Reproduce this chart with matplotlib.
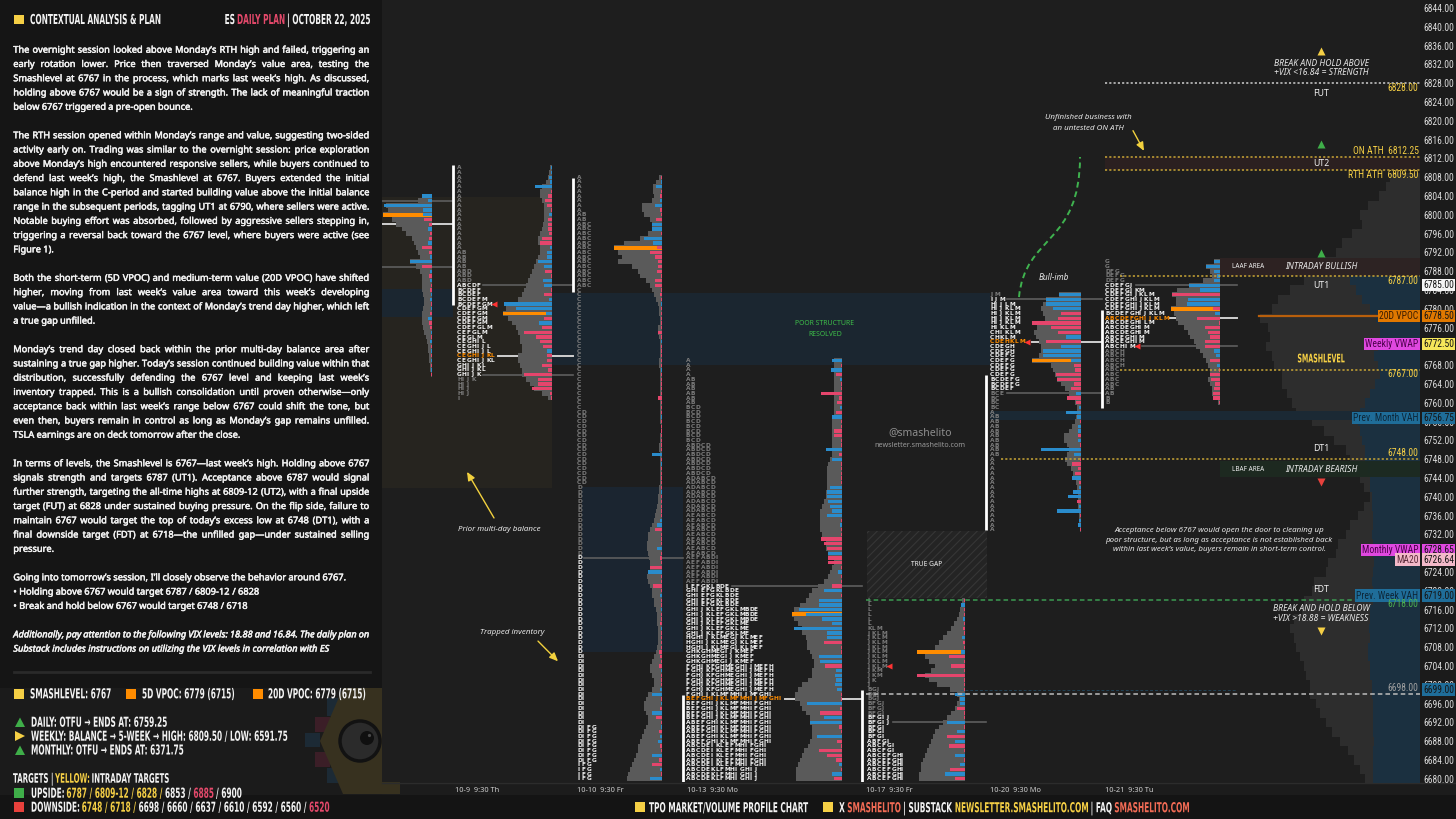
import numpy as np
import matplotlib
matplotlib.use("Agg")
import matplotlib.pyplot as plt
from matplotlib import font_manager as fm
from matplotlib.font_manager import FontProperties
from matplotlib.textpath import TextPath
from matplotlib.patches import PathPatch, Rectangle, Polygon, Circle
from matplotlib.path import Path
from matplotlib.transforms import Affine2D, blended_transform_factory
import matplotlib.patheffects as pe

# ============================ DATA ============================
PRICE_TICKS = list(range(6680, 6845, 4))
DATE_LABELS = ["10-9  9:30 Th", "10-10  9:30 Fr", "10-13  9:30 Mo",
               "10-17  9:30 Fr", "10-20  9:30 Mo", "10-21  9:30 Tu"]

# session 10-8 (left, partly cut)
S0_TOP = 6804
S0_VOL = [10, 14, 46, 44, 49, 40, 36, 30, 26, 20, 18, 16, 14, 12, 22, 16, 12, 10, 10, 10,
          10, 9, 8, 8, 9, 10, 10, 10, 9, 8, 6, 5, 4, 4, 3, 3, 2, 2, 1]
S0_DELTA = [10, 4, 48, 9, 9, -8, -3, 4, -2, -3, 4, -10, -3, 2, 22, -10, 2, -3, 2, -1,
            -2, 1, 2, -1, 1, -2, 4, -3, -2, 1, -1, 2, -1, 1, -1, 1, -1, 1, -1]
S0_VPOC = 6800
S0_LINES = [(6803, "va"), (6798, "poc"), (6789, "va")]

# session 10-9
D09_TOP = 6810
D09_VOL = [2, 3, 4, 6, 10, 12, 12, 10, 8, 8, 8, 8, 9, 10, 12, 14, 14, 12, 12, 14,
           16, 18, 20, 22, 24, 26, 28, 30, 34, 48, 46, 49, 44, 40, 36, 34, 32, 32, 30, 30,
           34, 34, 32, 30, 30, 26, 22, 18, 10, 4]
D09_DELTA = [1, 1, 3, 2, 17, 0, -4, -7, -5, 0, 3, -4, -4, -4, -3, -10, -12, 2, 5, 5,
             14, 8, -7, 0, 9, 8, 0, -8, 3, 48, 36, 6, -8, 13, -10, -28, -16, -12, -9, 5,
             -5, -5, -10, -4, -28, -14, -14, -20, -2, -1]
D09_VPOC = 6779
D09_TPO = [("A", 18), ("AB", 4), ("ABD", 3), ("ABCDF", 1), ("BCDEF", 2), ("BCDEFM", 1),
           ("BCDEFGM", 1), ("CDEFGM", 4), ("CDEFGLM", 1), ("CEFGLM", 1), ("CEGLM", 1),
           ("CEGHIL", 1), ("CEGHIJL", 2), ("CEGHIJKL", 2), ("GHIJKL", 2), ("GHIJK", 1),
           ("HIJK", 1), ("HIJ", 3), ("I", 1)]
D09_VA = (6785, 6766)
D09_TPOC = 6770
D09_CLOSE = 6781
D09_IB = (6780.8, 6810.6)
D09_LINES = [(6785, "va"), (6770, "poc"), (6766, "va")]

# session 10-10
D10_TOP = 6808
D10_VOL = [3, 6, 9, 9, 8, 10, 20, 20, 18, 12, 10, 10, 14, 22, 38, 48, 44, 40, 44, 30,
           24, 22, 16, 12, 10, 8, 6, 4, 3, 3,
           2, 2, 4, 4, 3, 2, 2, 2, 2, 3, 3, 2, 2, 2, 2, 2, 2, 2, 2, 2,
           2, 2, 2, 1, 1, 2, 2, 3, 3, 2, 2, 2, 2, 2, 2, 2, 3, 3, 4, 4,
           5, 6, 7, 8, 10, 12, 14, 14, 15, 15, 14, 13, 12, 12, 14, 15, 14, 12, 10, 10,
           8, 8, 6, 5, 5, 5, 4, 4, 4, 4, 5, 6, 8, 10, 12, 12, 10, 8, 8, 10,
           14, 16, 18, 18, 16, 14, 14, 16, 18, 20, 22, 24, 24, 26, 28, 30, 32, 34, 35]
D10_DELTA = [0, 1, 6, 0, -2, 2, 7, -2, 0, -6, 10, 10, 0, 18, 9, -5, -12, -7, -4, -4,
             -5, 0, -7, -7, 0, -2, 0, 1, -1, 0, -1, 0, 0, -4, 0, 1, 0, -1, 0, 0,
             0, 1, 0, -1, 0, 0, 0, -4, 0, 0, 0, 1, 0, 0, -1, 0, 0, 0, 0, 10,
             0, 1, 0, -1, 0, 0, 0, 1, 0, 0, 0, -1, 0, 2, 5, -7, 0, 0, 0, 5,
             0, -2, 0, -12, 14, 0, 0, -9, 0, 2, -1, 0, 1, -1, 0, -2, 1, 0, -1, 0,
             0, -3, -2, 0, -3, 1, 0, -1, 0, 2, 10, 0, 1, -2, 10, -6, 0, 1, -3, 2,
             4, -2, 0, 10, -3, -10, 2, 0, 12]
D10_VPOC = 6793
D10_TPO = [("A", 8), ("AB", 2), ("ABC", 14), ("C", 26), ("CD", 16), ("D", 36),
           ("DI", 15), ("DIFG", 8), ("IFG", 4)]
D10_VA = (6727, 6600)
D10_IB = (6783.6, 6807.8)
D10_LINES = [(6727, "va")]

# composite 10-13 .. 10-16
D13_TOP = 6769
D13_VOL = [8, 8, 8, 8, 8, 8, 8, 8, 8, 8, 8, 8, 9, 10, 10, 10, 10, 10, 10, 10,
           10, 12, 14, 15, 15, 15, 15, 15, 16, 16, 18, 20, 22, 22, 22, 22, 22, 20, 16, 16,
           16, 14, 10, 8, 10, 12, 14, 18, 24, 30, 33, 36, 42, 48, 50, 48, 44, 40, 40, 36,
           35, 35, 32, 30, 28, 28, 30, 30, 34, 40, 44, 47, 47, 42, 40, 36, 32, 32, 30, 30,
           30, 32, 34, 38, 40, 42, 44, 46, 46, 46]
D13_DELTA = [10, 0, 11, -6, 2, 0, 0, -21, -3, -5, 2, -6, 10, 0, 0, -8, -8, 0, 0, 16,
             -3, 10, 0, 0, 0, 0, 0, 12, 15, 15, 14, 12, 10, 15, 0, 2, 0, 0, -21, -18,
             -15, 14, -14, -14, 0, 4, 0, 0, -10, 18, 0, 23, 23, 43, 36, 20, 10, 48, 15, 15,
             -18, 0, 0, 23, 22, -17, 6, 7, 6, 7, 5, 0, 0, 35, -2, -22, 18, 32, -3, 0,
             25, -5, 0, -23, -15, -6, 3, 0, 10, -8]
D13_VPOC = 6715
D13_TPO = [("A", 4), ("AB", 6), ("BCD", 8), ("ABDCD", 7), ("ADABCD", 8), ("AEABCD", 9),
           ("AEFABDI", 6), ("IEFGKLBDE", 1), ("GHIEFGKLBDE", 4), ("GHIJKLEFGKLMBDE", 3),
           ("GHIJKLEFGKLME", 3), ("HGHIJKLMEGJKLMEF", 3), ("GHKGHMEGIJKMEF", 3),
           ("FGHJKFGHMEGHIJMEFH", 6), ("FGHIJKLMFMHIJMFGHI", 1), ("BEFGHIJKLMFMHIJMFGHI", 1),
           ("BEFGHIJKLMFMHIFGHI", 4), ("ABEFGHIKLMFMHIFGHI", 5), ("ABCDEIKLEFMHIFGHI", 5),
           ("ABCDEKLFMHIGHIJ", 3)]
D13_VA = (6721, 6600)
D13_TPOC = 6697
D13_IB = (6670, 6697.8)
D13_LINES = [(6721, "va"), (6697, "poc")]

# session 10-17
D17_TOP = 6718
D17_VOL = [3, 4, 5, 6, 8, 11, 14, 18, 22, 26, 30, 48, 40, 36, 30, 34, 40, 36, 28, 15,
           8, 6, 8, 10, 14, 18, 22, 26, 30, 32, 34, 36, 38, 40, 42, 44, 44, 46, 46]
D17_DELTA = [0, 4, 0, 0, 2, 0, -2, 0, 3, -2, 0, 4, -16, 0, -14, 0, -48, 0, 0, 0,
             10, 5, 5, -8, 0, 0, 18, 0, 8, -18, 10, -16, 0, 10, 0, 5, -15, 20, -10]
D17_VPOC = 6707
D17_TPO = [("L", 6), ("KLM", 1), ("JKLM", 8), ("JKM", 2), ("JK", 1), ("J", 1),
           ("BGJ", 3), ("BFGJ", 3), ("BFGIJ", 2), ("BFGI", 3), ("ABFGI", 1),
           ("ABCFGI", 2), ("ABCEFGHI", 6)]
D17_VA = (6693, 6600)
D17_CLOSE = 6704
D17_IB = (6670, 6698.9)
D17_LINES = [(6692, "va")]

# session 10-20
D20_TOP = 6783
D20_VOL = [22, 35, 38, 40, 38, 36, 40, 44, 47, 45, 42, 40, 40, 42, 49, 30, 28, 26, 24, 20,
           16, 12, 10, 6, 4, 4, 5, 6, 9, 12, 17, 17, 14, 12, 14, 16, 14, 10, 8, 6,
           5, 4, 4, 3, 3, 3, 3, 2, 2, 2, 1]
D20_DELTA = [22, 35, 35, 28, -20, -23, -49, -30, -23, 15, -35, 20, 38, 38, 10, -7, -6, -25, -24, -7,
             -10, 5, -14, -5, 2, 15, 4, -1, 3, 3, -3, 3, 0, 40, 7, 0, -9, -3, -6, 9,
             -2, 2, 8, 13, -4, 2, 24, -1, 2, 3, -1]
D20_VPOC = 6769
D20_TPO = [("JM", 1), ("IJM", 1), ("HIJLM", 1), ("HIJKLM", 4), ("HIKLM", 1), ("CHIKLM", 1),
           ("CHKLM", 1), ("CDEHKLM", 1), ("CDEGH", 2), ("CDEFG", 5), ("BCDEFG", 2),
           ("BCDEF", 1), ("BCE", 1), ("BC", 3), ("A", 1), ("AB", 9), ("A", 16)]
D20_VA = (6782, 6763)
D20_TPOC = 6773
D20_CLOSE = 6773
D20_IB = (6732.9, 6765.9)
D20_LINES = [(6782, "va"), (6773, "poc"), (6762, "va")]

# session 10-21
D21_TOP = 6790
D21_VOL = [6, 14, 10, 8, 17, 31, 43, 48, 44, 44, 49, 46, 44, 42, 36, 32, 30, 26, 24, 20,
           17, 14, 12, 10, 10, 12, 10, 8, 8, 7, 2]
D21_DELTA = [6, 14, 6, 3, 6, 31, 20, -48, 32, 33, -7, 5, -23, 0, -15, -12, -10, -15, -15, 6,
             4, -10, 3, 0, -10, -9, -5, -6, -7, -7, -1]
D21_VPOC = 6780
D21_TPO = [("G", 2), ("DFG", 1), ("DEFG", 2), ("CDEFGJ", 1), ("CDEFGJKM", 1), ("CDEFGIJKLM", 1),
           ("CDEFGHIJKLM", 3), ("BCDEFGHIJKLM", 1), ("ABCDEFGHIJKLM", 1), ("ABCDEGHILM", 1),
           ("ABCDEGHIM", 2), ("ABCEGHIM", 2), ("ABCHIM", 1), ("ABCH", 4), ("ABC", 4),
           ("AB", 2), ("B", 2)]
D21_VA = (6785, 6772)
D21_TPOC = 6778
D21_CLOSE = 6772
D21_IB = (6758.9, 6779.7)
D21_LINES = [(6785, "va"), (6778, "poc"), (6772, "va")]

# composite (longer term) profile on the right, 2-point bins from 6812 down
COMP_TOP = 6812
COMP_GRAY = [0, 0, 30, 34, 41, 52, 60, 58, 68, 78, 84, 96, 98, 116, 130, 142, 148, 160, 152, 150,
             154, 148, 146, 138, 138, 133, 128, 124, 108, 96, 86, 74, 70, 64, 60, 56, 50, 56, 62, 70,
             74, 82, 84, 92, 94, 106, 108, 116, 118, 126, 130, 126, 124, 120, 116, 114, 110, 110, 104, 100,
             94, 88, 80, 72, 66, 60, 55]
COMP_TEAL = [0, 0, 0, 0, 0, 0, 0, 0, 0, 0, 0, 0, 0,
             70, 64, 58, 50, 44, 40, 40, 42, 46, 42, 40, 45, 50, 55, 60, 62, 60, 58, 55, 55,
             52, 50, 50, 48, 48,
             47, 47, 48, 47, 47, 46, 47, 48, 47, 47, 50, 50, 51, 50, 52, 52, 50, 50, 48, 48,
             47, 47, 47, 47, 46, 47, 47, 47, 47]

# key levels
FUT, ON_ATH, RTH_ATH, UT1 = 6828.0, 6812.25, 6809.50, 6787.0
VPOC20, WVWAP, SMASH, LAST = 6778.50, 6772.50, 6767.0, 6785.0
PM_VAH, DT1, MVWAP, MA20 = 6756.75, 6748.0, 6728.65, 6726.64
PW_VAH, FDT, L6698, L6699 = 6719.0, 6718.0, 6698.0, 6699.0

BODY_LINES = [
    ("The overnight session looked above Monday’s RTH high and failed, triggering an", True, False),
    ("early rotation lower. Price then traversed Monday’s value area, testing the", True, False),
    ("Smashlevel at 6767 in the process, which marks last week’s high. As discussed,", True, False),
    ("holding above 6767 would be a sign of strength. The lack of meaningful traction", True, False),
    ("below 6767 triggered a pre-open bounce.", False, False),
    None,
    ("The RTH session opened within Monday’s range and value, suggesting two-sided", True, False),
    ("activity early on. Trading was similar to the overnight session: price exploration", True, False),
    ("above Monday’s high encountered responsive sellers, while buyers continued to", True, False),
    ("defend last week’s high, the Smashlevel at 6767. Buyers extended the initial", True, False),
    ("balance high in the C-period and started building value above the initial balance", True, False),
    ("range in the subsequent periods, tagging UT1 at 6790, where sellers were active.", True, False),
    ("Notable buying effort was absorbed, followed by aggressive sellers stepping in,", True, False),
    ("triggering a reversal back toward the 6767 level, where buyers were active (see", True, False),
    ("**Figure 1**).", False, False),
    None,
    ("Both the short-term (5D VPOC) and medium-term value (20D VPOC) have shifted", True, False),
    ("higher, moving from last week’s value area toward this week’s developing", True, False),
    ("value—a bullish indication in the context of Monday’s trend day higher, which left", True, False),
    ("a true gap unfilled.", False, False),
    None,
    ("Monday’s trend day closed back within the prior multi-day balance area after", True, False),
    ("sustaining a true gap higher. Today’s session continued building value within that", True, False),
    ("distribution, successfully defending the 6767 level and keeping last week’s", True, False),
    ("inventory trapped. This is a bullish consolidation until proven otherwise—only", True, False),
    ("acceptance back within last week’s range below 6767 could shift the tone, but", True, False),
    ("even then, buyers remain in control as long as Monday’s gap remains unfilled.", True, False),
    ("TSLA earnings are on deck tomorrow after the close.", False, False),
    None,
    ("In terms of levels, the **Smashlevel** is **6767**—last week’s high. Holding above **6767**", True, False),
    ("signals strength and targets **6787** (UT1). Acceptance above **6787** would signal", True, False),
    ("further strength, targeting the all-time highs at **6809-12** (UT2), with a final upside", True, False),
    ("target (FUT) at **6828** under sustained buying pressure. **On the flip side**, failure to", True, False),
    ("maintain **6767** would target the top of today’s excess low at **6748** (DT1), with a", True, False),
    ("final downside target (FDT) at **6718**—the unfilled gap—under sustained selling", True, False),
    ("pressure.", False, False),
    None,
    ("Going into tomorrow’s session, I’ll closely observe the behavior around **6767.**", False, False),
    ("• Holding above **6767** would target **6787 / 6809-12 / 6828**", False, False),
    ("• Break and hold below **6767** would target **6748 / 6718**", False, False),
    None,
    ("Additionally, pay attention to the following **VIX** levels: **18.88** and **16.84.** The daily plan on", True, True),
    ("**Substack** includes instructions on utilizing the VIX levels in correlation with ES", False, True),
]
# right ends (px) of the unjustified lines in the reference, used to size the body font
BODY_LINE_ENDS = {4: 194.3, 14: 55.0, 19: 94.3, 27: 241.7, 35: 51.7, 37: 324.0,
                  38: 256.7, 39: 240.0, 42: 325.0}

# ============================ STYLE ============================
W, H = 1456, 819
CH_L, CH_R, CH_B = 382, 1420, 782
XMAX = CH_R - CH_L
PX_PER_PT = 4.7
P_TOP = 6844 + 8 / PX_PER_PT
P_BOT = 6844 - (CH_B - 8) / PX_PER_PT

_names = {f.name for f in fm.fontManager.ttflist}
def pick(*c):
    for n in c:
        if n in _names:
            return n
    return "DejaVu Sans"
BODY = pick("Noto Sans", "Open Sans", "Lato", "DejaVu Sans")
NARROW = pick("Liberation Sans Narrow", "Roboto Condensed")
if NARROW == "DejaVu Sans":
    NARROW = pick("Roboto", "Noto Sans", "DejaVu Sans")
    AXFS = 5.6
else:
    AXFS = 6.9

BG = "#1b1b1b"; CHART_BG = "#1e1e1e"; PANEL = "#151515"
VGRAY = "#5a5a5a"; BLUE = "#2a8ccc"; RED = "#e5456c"; ORANGE = "#ff8c00"
YEL = "#f5cf45"; YEL_D = "#c9a636"; PINK = "#e5496b"; GREEN = "#3fae49"; SALMON = "#f26b55"
TXT = "#f2f2f2"
plt.rcParams["hatch.linewidth"] = 0.8

fig = plt.figure(figsize=(W / 100, H / 100), dpi=100)
fig.patch.set_facecolor(BG)

ax_bg = fig.add_axes([0, 0, 1, 1], zorder=0)
ax_bg.set_xlim(0, W); ax_bg.set_ylim(H, 0); ax_bg.axis("off")
ax = fig.add_axes([CH_L / W, 1 - CH_B / H, (CH_R - CH_L) / W, CH_B / H], zorder=1)
ax.set_facecolor(CHART_BG)
ax.set_xlim(0, XMAX); ax.set_ylim(P_BOT, P_TOP)
for s in ax.spines.values():
    s.set_visible(False)
ax.set_xticks([])
ax.yaxis.tick_right()
ax.set_yticks(PRICE_TICKS)
ax.set_yticklabels([f"{t:.2f}" for t in PRICE_TICKS])
ax.tick_params(axis="y", length=0, pad=2.5, labelsize=AXFS, labelcolor="#dadada")
for lab in ax.get_yticklabels():
    lab.set_fontfamily(NARROW)
ax_top = fig.add_axes([0, 0, 1, 1], zorder=2)
ax_top.set_xlim(0, W); ax_top.set_ylim(H, 0); ax_top.axis("off")
ax_top.patch.set_alpha(0)

# ---------- backgrounds ----------
for (xy, w, h, c) in [((0, 0), 382, 688, PANEL), ((0, 795), W, 24, "#141414"),
                      ((382, 782), W - 382, 13, "#1c1c1c")]:
    ax_bg.add_patch(Rectangle(xy, w, h, fc=c, ec="none"))
ax_bg.plot([382, W], [782.5, 782.5], color="#2c2c2c", lw=1)
ax_bg.plot([14, 370], [672, 672], color="#2a2a2a", lw=2)
# logo (dim, behind chart)
for (xy, w, h, c) in [((327, 698), 15, 18, "#1c2a35"), ((315, 717), 15, 15, "#3b1e27"),
                      ((305, 733), 15, 14, "#1c2a35"), ((315, 752), 15, 15, "#3b1e27"),
                      ((327, 768), 15, 15, "#1c2a35")]:
    ax_bg.add_patch(Rectangle(xy, w, h, fc=c, ec="none"))
ax_bg.add_patch(Polygon([(343, 688), (400, 688), (400, 794), (343, 794), (320, 741)],
                        closed=True, fc="#37311f", ec="none"))
ax_bg.add_patch(Circle((360, 741), 20, fc="#2b2b2b", ec="#121212", lw=2.5))
ax_bg.add_patch(Circle((367, 738), 7, fc="#101010", ec="none"))
ax_bg.add_patch(Circle((369.5, 735.5), 1.6, fc="#4a4a4a", ec="none"))

# ---------- chart shaded areas ----------
def band(x0, x1, p0, p1, c, z=0.5, a=1.0):
    ax.add_patch(Rectangle((x0, p0), x1 - x0, p1 - p0, fc=c, ec="none", zorder=z, alpha=a))

band(0, 170, 6741.9, 6803.8, "#26241f")                 # prior multi-day balance
band(170, 608, 6768.0, 6783.4, "#1b2630")               # poor structure resolved
band(0, 71, 6778.3, 6784.2, "#1b2630", z=0.6)
band(200, 301, 6707.0, 6742.1, "#1b2530")               # 10-10 value
gap = Rectangle((485, 6718.5), 120, 14.2, fc="#242424", ec="#363636", lw=0, hatch="////", zorder=0.6)
ax.add_patch(gap)

def step_profile(prices, widths, right, height, color, z):
    ys, xs = [], []
    for p, w in zip(prices, widths):
        ys += [p + height / 2, p - height / 2]
        xs += [right - w, right - w]
    ax.fill_betweenx(ys, xs, right, color=color, linewidth=0, zorder=z)

# composite profile
cp = COMP_TOP - 2 * np.arange(len(COMP_GRAY))
step_profile(cp, COMP_GRAY, XMAX, 2.0, "#2d2d2d", 1.0)
step_profile(cp, COMP_TEAL, XMAX, 2.0, "#1b3040", 1.1)

band(723, XMAX, RTH_ATH, ON_ATH, "#2b2020", z=1.3)
band(838, XMAX, 6787.0, 6790.8, "#2e2323", z=1.3, a=0.95)
band(608, XMAX, 6756.3, 6758.3, "#1b2934", z=1.3)
band(838, XMAX, 6744.2, 6747.6, "#1d2a21", z=1.3, a=0.95)

# ---------- session profiles ----------
PITCH = 4.85
LFP = FontProperties(family="DejaVu Sans", weight="bold", size=4.2)

def expand(runs):
    out = []
    for s, n in runs:
        out += [s] * n
    return out

def draw_session(top, vol, delta, vpoc, right, tpo=None, lx=None, va=None, tpoc=None,
                 close=None, ib=None, ibx=None, lines=(), line_end=None):
    vol = np.array(vol, dtype=float)
    prices = top - np.arange(len(vol))
    step_profile(prices, vol, right, 1.0, VGRAY, 3)
    i = top - vpoc
    ax.barh([vpoc], [vol[i]], left=right - vol[i], height=0.78, color=ORANGE, linewidth=0, zorder=4)
    d = np.array(delta, dtype=float)
    dp = top - np.arange(len(d))
    dw = np.maximum(np.abs(d), 1.3)
    ax.barh(dp, dw, left=right - dw, height=0.72,
            color=[BLUE if v > 0 else RED for v in d], linewidth=0, zorder=5)
    rows = {}
    if tpo is not None:
        for k, s in enumerate(expand(tpo)):
            p = top - k
            rows[p] = s
            if p == tpoc:
                col = ORANGE
            elif va[1] <= p <= va[0]:
                col = "#f2f2f2"
            else:
                col = "#7c7c7c"
            for j, ch in enumerate(s):
                ax.text(lx + j * PITCH, p, ch, fontproperties=LFP, color=col,
                        ha="left", va="center", zorder=6)
        if close is not None:
            xc = lx + len(rows[close]) * PITCH + 3
            ax.plot([xc], [close], marker="<", color="#ff3333", ms=3.8, mec="none", zorder=7)
    if ib is not None:
        ax.plot([ibx, ibx], [ib[0], ib[1]], color="white", lw=2.0, zorder=6,
                solid_capstyle="butt")
    for p, kind in lines:
        if tpo is None:
            x0 = 0
        else:
            x0 = lx + len(rows.get(p, "")) * PITCH + 2
            if close is not None and p == close:
                x0 += 6
        col, lw = ("#d0d0d0", 1.4) if kind == "poc" else ("#5e5e5e", 1.2)
        ax.plot([x0, line_end], [p, p], color=col, lw=lw, zorder=2.5)

draw_session(S0_TOP, S0_VOL, S0_DELTA, S0_VPOC, right=50, lines=S0_LINES, line_end=71)
draw_session(D09_TOP, D09_VOL, D09_DELTA, D09_VPOC, right=170, tpo=D09_TPO, lx=75, va=D09_VA,
             tpoc=D09_TPOC, close=D09_CLOSE, ib=D09_IB, ibx=71, lines=D09_LINES, line_end=191)
draw_session(D10_TOP, D10_VOL, D10_DELTA, D10_VPOC, right=280, tpo=D10_TPO, lx=195, va=D10_VA,
             ib=D10_IB, ibx=191, lines=D10_LINES, line_end=301)
draw_session(D13_TOP, D13_VOL, D13_DELTA, D13_VPOC, right=460, tpo=D13_TPO, lx=304, va=D13_VA,
             tpoc=D13_TPOC, ib=D13_IB, ibx=301, lines=D13_LINES, line_end=480)
draw_session(D17_TOP, D17_VOL, D17_DELTA, D17_VPOC, right=583, tpo=D17_TPO, lx=485, va=D17_VA,
             close=D17_CLOSE, ib=D17_IB, ibx=480, lines=D17_LINES, line_end=604)
draw_session(D20_TOP, D20_VOL, D20_DELTA, D20_VPOC, right=699, tpo=D20_TPO, lx=608, va=D20_VA,
             tpoc=D20_TPOC, close=D20_CLOSE, ib=D20_IB, ibx=604, lines=D20_LINES, line_end=720)
draw_session(D21_TOP, D21_VOL, D21_DELTA, D21_VPOC, right=838, tpo=D21_TPO, lx=723, va=D21_VA,
             tpoc=D21_TPOC, close=D21_CLOSE, ib=D21_IB, ibx=720, lines=D21_LINES, line_end=855)

# ---------- level lines ----------
DOT = (0, (1.4, 1.4)); DASH = (0, (3, 2))
def hline(p, x0, x1, color, ls, lw=1.1, z=7, a=1.0):
    ax.plot([x0, x1], [p, p], color=color, ls=ls, lw=lw, zorder=z, alpha=a)
hline(FUT, 723, XMAX, "#cfcfcf", DOT)
hline(ON_ATH, 723, XMAX, YEL_D, DOT)
hline(RTH_ATH, 723, XMAX, YEL_D, DOT)
hline(UT1, 738, XMAX, YEL_D, DOT)
hline(VPOC20, 877, 1000, "#b85f0c", "-", lw=1.6)
hline(SMASH, 738, XMAX, YEL_D, DOT)
hline(DT1, 619, XMAX, YEL_D, DOT)
hline(FDT, 484, XMAX, "#3c9a52", DASH)
hline(L6699, 578, 855, "#23597a", DASH, lw=0.7, a=0.6)
hline(L6698, 484, XMAX, "#bdbdbd", DASH)

NFP = dict(family=NARROW, fontsize=AXFS)
def rlabel(p, s, color, fc=None):
    kw = dict(ha="right", va="center", color=color, zorder=9, **NFP)
    if fc:
        kw["bbox"] = dict(boxstyle="square,pad=0.12", fc=fc, ec="none")
    ax.text(XMAX - 1.5, p, s, **kw)
rlabel(6826.9, "6828.00", YEL)
rlabel(6813.6, "ON ATH  6812.25", YEL)
rlabel(6808.5, "RTH ATH  6809.50", YEL)
rlabel(6785.9, "6787.00", YEL)
rlabel(VPOC20, "20D VPOC", "#3a1c00", "#e07800")
rlabel(WVWAP, "Weekly VWAP", "#4a004a", "#e048e0")
rlabel(6766.1, "6767.00", YEL)
rlabel(PM_VAH, "Prev. Month VAH", "#0d2638", "#1f6d99")
rlabel(6749.3, "6748.00", YEL)
rlabel(MVWAP, "Monthly VWAP", "#4a004a", "#e048e0")
rlabel(MA20, "MA20", "#5a2a3a", "#f3b9c9")
rlabel(PW_VAH, "Prev. Week VAH", "#0d2638", "#1f6d99")
rlabel(6717.2, "6718.00", "#4caf50")
rlabel(6699.3, "6698.00", "#a0a0a0")

tr = blended_transform_factory(ax.transAxes, ax.transData)
for p, s, fc in [(LAST, "6785.00", "#f5f5f5"), (VPOC20, "6778.50", "#e07800"),
                 (WVWAP, "6772.50", "#f5e65a"), (PM_VAH, "6756.75", "#1f6d99"),
                 (MVWAP, "6728.65", "#e048e0"), (MA20, "6726.64", "#f3b9c9"),
                 (PW_VAH, "6719.00", "#1f6d99"), (L6699, "6699.00", "#1f6d99")]:
    ax.text(1.003, p, s, transform=tr, ha="left", va="center", color="#151515", clip_on=False,
            zorder=10, bbox=dict(boxstyle="square,pad=0.12", fc=fc, ec="none"), **NFP)

# ---------- chart annotations ----------
CX = 939
IT = dict(family=BODY, style="italic", weight="semibold", color="#e8e8e8", ha="center", va="center", zorder=9)
BD = dict(family=BODY, weight="bold", color="#f0f0f0", ha="center", va="center", zorder=9)
for p, m, c in [(6834.9, "^", YEL), (6815.1, "^", GREEN), (6791.9, "^", GREEN),
                (6743.1, "v", "#e8413c"), (6711.4, "v", YEL)]:
    ax.plot([CX], [p], marker=m, color=c, ms=5.5, mec="none", zorder=9)
ax.text(CX, 6832.1, "BREAK AND HOLD ABOVE", fontsize=6.2, **IT)
ax.text(CX, 6830.2, "+VIX <16.84 = STRENGTH", fontsize=6.2, **IT)
ax.text(CX, 6716.3, "BREAK AND HOLD BELOW", fontsize=6.2, **IT)
ax.text(CX, 6714.1, "+VIX >18.88 = WEAKNESS", fontsize=6.2, **IT)
for p, s in [(6825.9, "FUT"), (6811.0, "UT2"), (6784.9, "UT1"), (6750.2, "DT1"), (6720.2, "FDT")]:
    ax.text(CX, p, s, fontsize=6.3, **BD)
ax.text(866, 6789.0, "LAAF AREA", fontsize=4.6, **BD)
ax.text(866, 6745.9, "LBAF AREA", fontsize=4.6, **BD)
ax.text(CX, 6789.0, "INTRADAY BULLISH", fontsize=6.2, **IT)
ax.text(CX, 6745.9, "INTRADAY BEARISH", fontsize=6.2, **IT)
for p, s in [(6732.9, "Acceptance below 6767 would open the door to cleaning up"),
             (6730.8, "poor structure, but as long as acceptance is not established back"),
             (6728.7, "within last week’s value, buyers remain in short-term control.")]:
    ax.text(837, p, s, fontsize=5.7, **IT)
ax.text(117, 6733.1, "Prior multi-day balance", fontsize=5.7, **IT)
ax.text(130, 6711.2, "Trapped inventory", fontsize=5.7, **IT)
ax.text(706, 6820.6, "Unfinished business with", fontsize=5.7, **IT)
ax.text(706, 6818.3, "an untested ON ATH", fontsize=5.7, **IT)
ax.text(672, 6786.6, "Bull-imb", fontsize=5.9, **IT)
ax.text(443, 6776.8, "POOR STRUCTURE", fontsize=5.0, family=BODY, weight="bold", color="#3dbb49",
        ha="center", va="center", zorder=9)
ax.text(443, 6774.6, "RESOLVED", fontsize=5.0, family=BODY, weight="bold", color="#3dbb49",
        ha="center", va="center", zorder=9)
ax.text(538, 6753.6, "@smashelito", fontsize=7.6, family=BODY, color="#8e8e8e", ha="center", va="center", zorder=9)
ax.text(538, 6751.0, "newsletter.smashelito.com", fontsize=5.2, family=BODY, color="#9a9a9a",
        ha="center", va="center", zorder=9)
ax.text(545, 6725.5, "TRUE GAP", fontsize=4.8, **BD)
AP = dict(arrowstyle="-|>,head_length=0.5,head_width=0.22", color="#f2d13e", lw=1.0, shrinkA=0, shrinkB=0)
ax.annotate("", xy=(85, 6745.3), xytext=(112, 6735.5), arrowprops=AP, zorder=9)
ax.annotate("", xy=(176, 6705.0), xytext=(156, 6709.3), arrowprops=AP, zorder=9)
ax.annotate("", xy=(762, 6813.6), xytext=(751, 6817.9), arrowprops=AP, zorder=9)
curve = Path([(637, 6782.5), (643, 6795.7), (698, 6793.6), (698, 6812.3)],
             [Path.MOVETO, Path.CURVE4, Path.CURVE4, Path.CURVE4])
ax.add_patch(PathPatch(curve, fc="none", ec="#3fb34f", lw=1.4, ls=(0, (3, 2)), zorder=9))

# ---------- overlay text (figure pixels) ----------
def ypx(p):
    return 8 + (6844 - p) * PX_PER_PT

CFP = FontProperties(family="DejaVu Sans", weight="bold")
CAPR = 0.729
_ref = TextPath((0, 0), "CONTEXTUAL ANALYSIS & PLAN", size=10 / CAPR, prop=CFP).get_extents()
XS = 130.0 / _ref.width

def cwidth(segs, cap):
    return sum(TextPath((0, 0), s, size=cap / CAPR, prop=CFP).get_extents().x1 * XS for s, _ in segs)

def ctext(x, yb, segs, cap=10.0, align="left"):
    if align == "right":
        x -= cwidth(segs, cap)
    elif align == "center":
        x -= cwidth(segs, cap) / 2
    for s, col in segs:
        tp = TextPath((0, 0), s, size=cap / CAPR, prop=CFP)
        path = Affine2D().scale(XS, -1).translate(x, yb).transform_path(tp)
        ax_top.add_patch(PathPatch(path, fc=col, ec="none", lw=0, zorder=5))
        x += tp.get_extents().x1 * XS
    return x

def square(x, y, c, s=10):
    ax_top.add_patch(Rectangle((x, y), s, s, fc=c, ec="none"))

# header
square(14, 14.5, YEL, 9.5)
ctext(30, 24, [("CONTEXTUAL ANALYSIS & PLAN", "#f2f2f2")])
ctext(370, 24, [("ES", "#f2f2f2"), (" DAILY PLAN", PINK), (" | OCTOBER 22, 2025", "#f2f2f2")], align="right")

# body text (justified)
renderer = fig.canvas.get_renderer()
def fprop(bold, italic, size):
    return FontProperties(family=BODY, weight="bold" if bold else "normal",
                          style="italic" if italic else "normal", size=size)
def tw(s, fp):
    return renderer.get_text_width_height_descent(s, fp, ismath=False)[0]

def parse_words(text):
    runs = text.split("**")
    words = [[]]
    for i, run in enumerate(runs):
        b = (i % 2 == 1)
        for j, part in enumerate(run.split(" ")):
            if j > 0:
                words.append([])
            if part:
                words[-1].append((part, b))
    return [w for w in words if w]

def space_w(italic, size):
    fpn = fprop(False, italic, size)
    return tw("a a", fpn) - tw("aa", fpn)

def natural_width(text, italic, size):
    words = parse_words(text)
    return (sum(tw(p, fprop(b, italic, size)) for w in words for p, b in w)
            + space_w(italic, size) * (len(words) - 1))

X0, XR = 13.3, 369.3
_tgt = sum(v - X0 for v in BODY_LINE_ENDS.values())
_meas = sum(natural_width(BODY_LINES[k][0], BODY_LINES[k][2], 10) for k in BODY_LINE_ENDS)
BFS_U = 10 * _tgt / _meas
_just = [k for k, l in enumerate(BODY_LINES) if l and l[1]]
_nat_j = np.mean([natural_width(BODY_LINES[k][0], BODY_LINES[k][2], 10) for k in _just])
BFS_J = 10 * 0.97 * (XR - X0) / _nat_j
BFS = BFS_U ** 0.35 * BFS_J ** 0.65
STROKE = [pe.withStroke(linewidth=0.35, foreground=TXT)]

def draw_line(yb, text, justify, italic):
    words = parse_words(text)
    widths = [sum(tw(p, fprop(b, italic, BFS)) for p, b in w) for w in words]
    sp = space_w(italic, BFS)
    gap = (XR - X0 - sum(widths)) / (len(words) - 1) if (justify and len(words) > 1) else sp
    if justify and gap < 0.6 * sp:
        gap = 0.6 * sp
    x = X0
    for w, wd in zip(words, widths):
        xx = x
        for p, b in w:
            fp = fprop(b, italic, BFS)
            ax_top.text(xx, yb, p, fontproperties=fp, color=TXT, va="baseline", ha="left",
                        path_effects=STROKE)
            xx += tw(p, fp)
        x += wd + gap

for k, line in enumerate(BODY_LINES):
    if line is None:
        continue
    draw_line(52.7 + 14.26 * k, *line)

# stats block
WH = "#f2f2f2"
square(14, 688.5, YEL); ctext(30, 698.3, [("SMASHLEVEL: 6767", WH)])
square(126, 688.5, ORANGE); ctext(142, 698.3, [("5D VPOC: 6779 (6715)", WH)])
square(253, 688.5, ORANGE); ctext(268, 698.3, [("20D VPOC: 6779 (6715)", WH)])
ax_top.add_patch(Polygon([(15, 727), (25, 727), (20, 717.5)], fc=GREEN, ec="none"))
ctext(31, 726.7, [("DAILY: OTFU → ENDS AT: 6759.25", WH)])
ax_top.add_patch(Polygon([(15, 731), (15, 741), (25, 736)], fc=YEL, ec="none"))
ctext(31, 740.7, [("WEEKLY: BALANCE → 5-WEEK → HIGH: 6809.50 / LOW: 6591.75", WH)])
ax_top.add_patch(Polygon([(15, 755), (25, 755), (20, 745.5)], fc=GREEN, ec="none"))
ctext(31, 754.5, [("MONTHLY: OTFU → ENDS AT: 6371.75", WH)])
ctext(13, 782.7, [("TARGETS |", WH), (" YELLOW:", YEL), (" INTRADAY TARGETS", WH)], cap=9.5)
square(14, 788, GREEN)
ctext(31, 797.7, [("UPSIDE:", WH), (" 6787 / 6809-12 / 6828 /", YEL), (" 6853 /", WH),
                  (" 6885", PINK), (" / 6900", WH)])
square(14, 802, "#e8413c")
ctext(31, 811.7, [("DOWNSIDE:", WH), (" 6748 / 6718 /", YEL),
                  (" 6698 / 6660 / 6637 / 6610 / 6592 / 6560 /", WH), (" 6520", PINK)])

# right-side condensed label
ctext(1321, ypx(6769.5) + 4.2, [("SMASHLEVEL", YEL)], cap=8.6, align="center")

# footer
square(635, 802.3, YEL, 9.5)
xe = ctext(649, 812.2, [("TPO MARKET/VOLUME PROFILE CHART", WH)])
square(xe + 15, 802.3, YEL, 9.5)
ctext(xe + 31, 812.2, [("X", WH), (" SMASHELITO", SALMON), (" | SUBSTACK", WH),
                        (" NEWSLETTER.SMASHELITO.COM", YEL), (" | FAQ", WH), (" SMASHELITO.COM", SALMON)])

# date labels
for x, s in zip([455, 577, 687, 866, 990, 1105], DATE_LABELS):
    ax_top.text(x, 790, s, fontsize=5.3, family=BODY, color="#cfcfcf", ha="left", va="center")

fig.savefig("out.png", dpi=100, facecolor=fig.get_facecolor())
